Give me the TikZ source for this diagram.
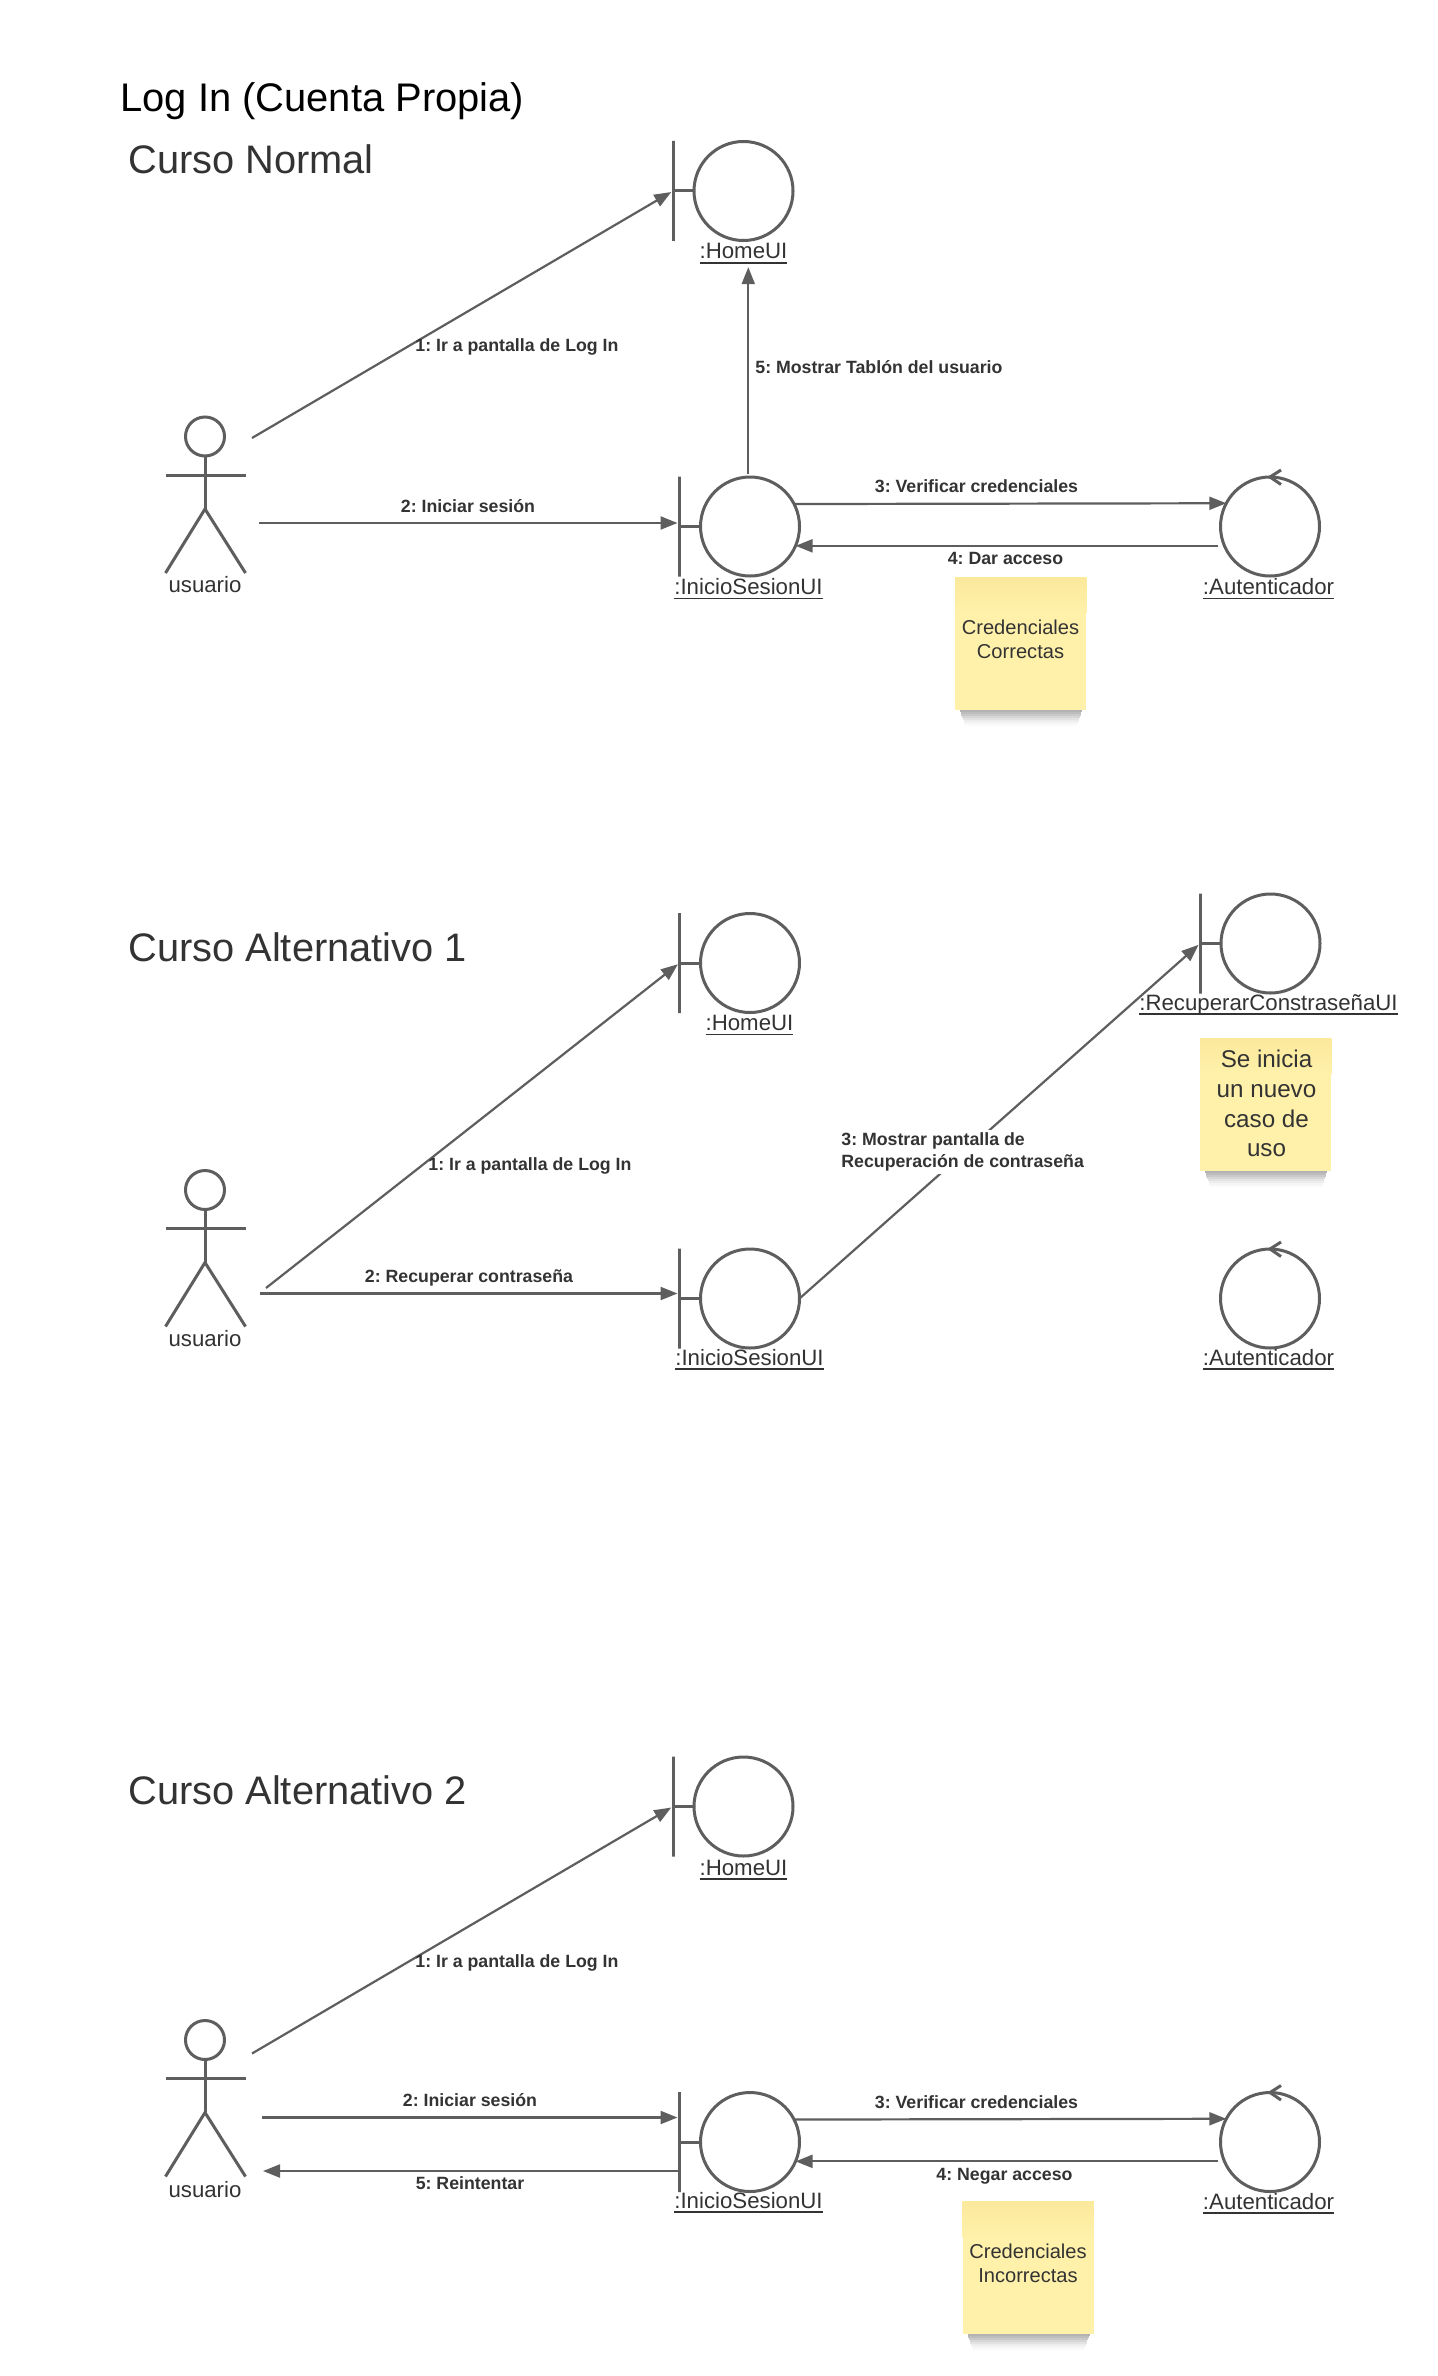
\documentclass[tikz,border=0pt]{standalone}
\usepackage{fontspec}
\setmainfont{Liberation Sans}
\usetikzlibrary{arrows.meta,calc}
\definecolor{ln}{HTML}{5E5E5E}
\definecolor{tx}{HTML}{333333}
\definecolor{nt}{HTML}{FFF1AA}
\definecolor{ntd}{HTML}{FBE99C}
\frenchspacing
\newcommand\ulab[1]{\leavevmode\setbox0\hbox{#1}\rlap{\copy0}\rlap{\rule[-2.4pt]{\wd0}{0.75pt}}\kern\wd0\relax}
\tikzset{
  x=0.5pt,y=-0.5pt,
  obj/.style={draw=ln,line width=1.5pt,circle,minimum size=49.5pt,inner sep=0,outer sep=0},
  barline/.style={draw=ln,line width=1.5pt,minimum height=50pt,minimum width=0pt,inner sep=0,outer sep=0},
  stroke/.style={draw=ln,line width=1.5pt},
  arr/.style={draw=ln,line width=1.1pt,-{Triangle[length=8.5pt,width=6.5pt]}},
  objlab/.style={text=tx,font=\fontsize{11.12}{13}\selectfont,anchor=base,inner sep=0},
  msg/.style={text=tx,font=\bfseries\fontsize{8.87}{11}\selectfont,inner sep=0},
  head1/.style={text=black,font=\fontsize{19.95}{24}\selectfont,anchor=west,inner sep=0},
  head2/.style={text=tx,font=\fontsize{19.9}{24}\selectfont,anchor=west,inner sep=0},
  notebox/.style={fill=nt,minimum width=65.7pt,minimum height=66pt,inner sep=0,outer sep=0},
  notetext/.style={text=tx,align=center,inner sep=0},
}
% boundary object: id, cx, cy, label, label cx, label baseline y
\newcommand\bobj[6]{%
  \node[obj] (#1) at (#2,#3) {};
  \node[barline] (#1B) at ($(#1.center)+(-70.5,0)$) {};
  \draw[stroke] (#1B.center) -- (#1.west);
  \node[objlab] (#1L) at (#5,#6) {\ulab{#4}};
}
% control object: id, cx, cy, label cx, label baseline y
\newcommand\cobj[5]{%
  \node[obj] (#1) at (#2,#3) {};
  \coordinate (#1t) at (#1.north);
  \draw[stroke,line join=miter] ($(#1t)+(11,-7)$) -- (#1t) -- ($(#1t)+(11,7.5)$);
  \node[objlab] (#1L) at (#4,#5) {\ulab{:Autenticador}};
}
% actor: id, cx, head cy, label baseline y
\newcommand\actorfig[4]{%
  \node[obj,minimum size=19.5pt] (#1) at (#2,#3) {};
  \coordinate (#1h) at ($(#1.south)+(0,53)$);
  \draw[stroke] (#1.south) -- (#1h);
  \draw[stroke] ($(#1.south)+(-39.5,19)$) -- ($(#1.south)+(40.5,19)$);
  \draw[stroke] ($(#1h)+(-39.5,64)$) -- (#1h) -- ($(#1h)+(40.5,64)$);
  \node[objlab] (#1L) at (#2,#4) {usuario};
}
% note shadow + box: id, x0, y0
\newcommand\notefig[3]{%
  \foreach \i/\o in {0/.30,2/.26,4/.21,6/.16,8/.11,10/.07,12/.04,14/.02}{
    \fill[black,opacity=\o] (#2+5+\i*0.35,#3+132+\i) rectangle (#2+127-\i*0.35,#3+134+\i);
  }
  \node[notebox,anchor=north west] (#1) at (#2,#3) {};
  \fill[bottom color=nt,top color=ntd] (#1.north west) rectangle ($(#1.north east)+(0,36)$);
}
\begin{document}
\begin{tikzpicture}
\useasboundingbox[fill=white] (0,0) rectangle (1437,2376);

\node[head1] (title) at (120,101) {Log In (Cuenta Propia)};

%%% Curso Normal
\node[head2] (h1) at (128,159) {Curso Normal};
\bobj{home1}{743.5}{191}{:HomeUI}{743.5}{259}
\bobj{ini1}{750}{526.5}{:InicioSesionUI}{748.5}{594.5}
\cobj{aut1}{1270}{526.5}{1268.5}{594.5}
\actorfig{act1}{205}{436.5}{592.5}
\notefig{note1}{955}{577.5}
\node[notetext,font=\fontsize{10.05}{12.25}\selectfont] (nt1) at (1020.5,639.5) {Credenciales\\Correctas};
\coordinate (f11) at (252,438);
\coordinate (f12) at (259,523);
\draw[arr,shorten >=1pt] (f11) -- (home1B.center);
\draw[arr,shorten >=1pt] (f12) -- (f12 -| ini1B);
\draw[arr,shorten <=1.5pt,shorten >=1.5pt] (ini1.92) -- (ini1.92 |- home1L.south);
\draw[arr] (ini1.27.5) -- (aut1.152.5);
\draw[arr,shorten <=3pt] (aut1.203.3) -- (ini1.-23.3);
\node[msg,anchor=west] (m11) at (415,347) {1: Ir a pantalla de Log In};
\node[msg] (m12) at (468,506) {2: Iniciar sesión};
\node[msg,anchor=west] (m15) at (755,367) {5: Mostrar Tablón del usuario};
\node[msg] (m13) at (976.5,486) {3: Verificar credenciales};
\node[msg] (m14) at (1005.5,558.5) {4: Dar acceso};

%%% Curso Alternativo 1
\node[head2] (h2) at (128,947) {Curso Alternativo 1};
\bobj{home2}{750}{963}{:HomeUI}{749.5}{1030.5}
\bobj{ini2}{750}{1298.5}{:InicioSesionUI}{749.5}{1365}
\bobj{rec2}{1270.5}{943.5}{:RecuperarConstraseñaUI}{1268.5}{1010}
\cobj{aut2}{1270}{1298.5}{1268.5}{1365}
\actorfig{act2}{205}{1190}{1346.5}
\notefig{note2}{1200}{1038.5}
\node[notetext,font=\fontsize{12.1}{14.85}\selectfont] (nt2) at (1266.5,1103.5) {Se inicia\\un nuevo\\caso de\\uso};
\coordinate (f21) at (266,1288);
\coordinate (f22) at (260,1293.5);
\draw[arr,shorten >=1pt] (f21) -- (home2B.center);
\draw[arr,shorten >=1pt] (f22) -- (f22 -| ini2B);
\draw[arr,shorten >=1pt] (ini2.east) -- (rec2B.center);
\node[msg,anchor=west] (m21) at (428,1166) {1: Ir a pantalla de Log In};
\node[msg] (m22) at (469,1278) {2: Recuperar contraseña};
\node[msg,anchor=west,align=left,fill=white,inner ysep=1.5pt,inner xsep=0pt] (m23) at (841,1152) {3: Mostrar pantalla de\\Recuperación de contraseña};

%%% Curso Alternativo 2
\node[head2] (h3) at (128,1790) {Curso Alternativo 2};
\bobj{home3}{743.5}{1806.5}{:HomeUI}{743.5}{1875}
\bobj{ini3}{750}{2142}{:InicioSesionUI}{748.5}{2208}
\cobj{aut3}{1270}{2142}{1268.5}{2209}
\actorfig{act3}{205}{2040}{2197}
\notefig{note3}{962.5}{2201.5}
\node[notetext,font=\fontsize{10.05}{12.25}\selectfont] (nt3) at (1028,2263.5) {Credenciales\\Incorrectas};
\coordinate (f31) at (252,2053.5);
\coordinate (f32) at (262,2117.5);
\coordinate (f35) at (263,2171);
\draw[arr,shorten >=1pt] (f31) -- (home3B.center);
\draw[arr,shorten >=1pt] (f32) -- (f32 -| ini3B);
\draw[arr,shorten <=1pt] (f35 -| ini3B) -- (f35);
\draw[arr] (ini3.27.5) -- (aut3.152.5);
\draw[arr,shorten <=3pt] (aut3.203.3) -- (ini3.-23.3);
\node[msg,anchor=west] (m31) at (415,1963) {1: Ir a pantalla de Log In};
\node[msg] (m32) at (470,2100) {2: Iniciar sesión};
\node[msg] (m33) at (976.5,2102.5) {3: Verificar credenciales};
\node[msg] (m34) at (1004.5,2176) {4: Negar acceso};
\node[msg] (m35) at (470,2183) {5: Reintentar};
\end{tikzpicture}
\end{document}
